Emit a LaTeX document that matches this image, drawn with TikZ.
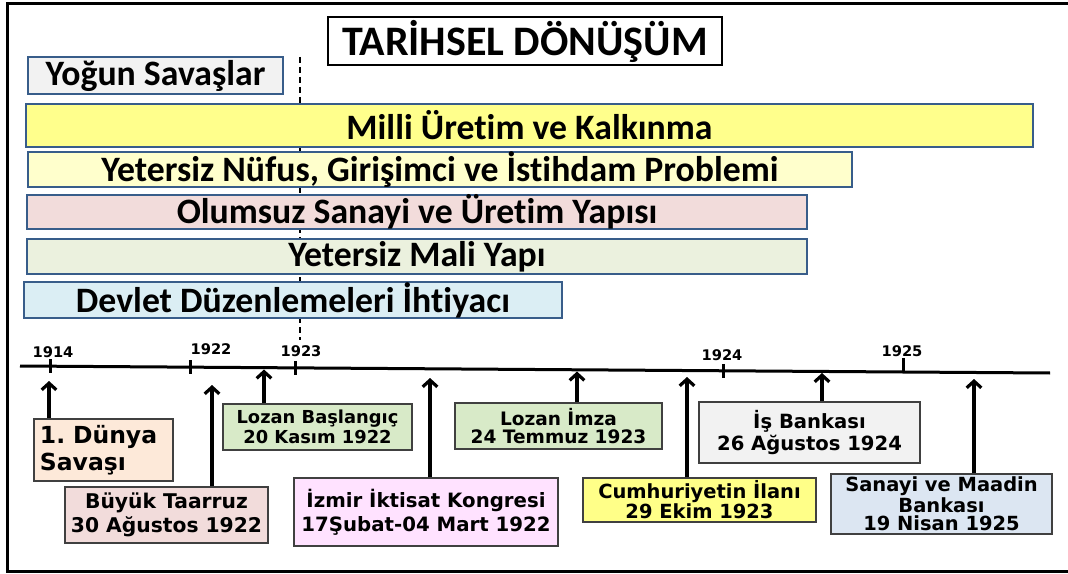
\documentclass[tikz,border=0pt]{standalone}
\usepackage{fontspec}
\newfontfamily\calfont[Ligatures=NoCommon]{Carlito}
\newfontfamily\verfont{DejaVu Sans}
\usetikzlibrary{arrows.meta}
\definecolor{barline}{RGB}{56,93,138}
\definecolor{boxline}{RGB}{64,64,64}
\definecolor{yogunc}{RGB}{242,242,242}
\definecolor{millic}{RGB}{255,255,140}
\definecolor{nufusc}{RGB}{255,255,204}
\definecolor{olumc}{RGB}{242,220,219}
\definecolor{malic}{RGB}{235,241,222}
\definecolor{devletc}{RGB}{219,238,244}
\definecolor{dunyac}{RGB}{253,233,217}
\definecolor{buyukc}{RGB}{242,220,219}
\definecolor{lozanc}{RGB}{216,234,200}
\definecolor{izmirc}{RGB}{255,226,255}
\definecolor{cumhc}{RGB}{255,255,136}
\definecolor{isc}{RGB}{242,242,242}
\definecolor{sanayic}{RGB}{220,230,242}
\tikzset{
  bar/.style={draw=barline, line width=1.5pt, inner sep=0pt,
    font=\calfont\bfseries\fontsize{26.8}{30}\selectfont},
  evbox/.style={draw=boxline, line width=0.9pt, inner sep=0pt, align=center},
  evfont/.style 2 args={font=\verfont\bfseries\fontsize{#1}{#2}\selectfont},
  arr/.style={line width=2.4pt, -{Straight Barb[length=5pt,width=11pt]}},
  yearlbl/.style={font=\verfont\bfseries\fontsize{11}{12}\selectfont, inner sep=0pt},
  yeartick/.style={line width=2.25pt},
  frameline/.style={line width=2.25pt},
  timeline/.style={line width=2.25pt},
  guideline/.style={line width=1.5pt, dash pattern=on 4.5pt off 3pt}
}
\begin{document}
\begin{tikzpicture}[x=0.75pt,y=-0.75pt]
\useasboundingbox (0,0) rectangle (1068,574);
\fill[white] (0,0) rectangle (1068,574);
% outer frame
\draw[frameline] (7,4) rectangle (1090,571);
% dashed guide
\coordinate (gA) at (300,57);
\coordinate (gB) at (300,340);
\draw[guideline] (gA) -- (gB);
% title
\node[draw=black, line width=1.1pt, fill=white, inner sep=0pt, minimum width=295.5pt, minimum height=36pt,
  font=\calfont\bfseries\fontsize{31.5}{34}\selectfont] (title) at (525,41) {TARİHSEL DÖNÜŞÜM};
% bars
\node[bar, fill=yogunc, minimum width=191.25pt, minimum height=27.75pt] (yogun) at (155.5,75.5) {Yoğun Savaşlar};
\node[bar, fill=millic, minimum width=755.25pt, minimum height=32.25pt] (milli) at (529.5,125.5) {Milli Üretim ve Kalkınma};
\node[bar, fill=nufusc, minimum width=618pt, minimum height=24.75pt] (nufus) at (440,169.5) {Yetersiz Nüfus, Girişimci ve İstihdam Problemi};
\node[bar, fill=olumc, minimum width=585pt, minimum height=25.5pt] (olum) at (417,212) {Olumsuz Sanayi ve Üretim Yapısı};
\node[bar, fill=malic, minimum width=585pt, minimum height=26.25pt] (mali) at (417,256.5) {Yetersiz Mali Yapı};
\node[bar, fill=devletc, minimum width=403.5pt, minimum height=27pt] (devlet) at (293,300) {Devlet Düzenlemeleri İhtiyacı};
% timeline
\coordinate (tlA) at (20,366);
\coordinate (tlB) at (1050,373);
\draw[timeline] (tlA) -- (tlB);
\draw[yeartick] (50,359.2) -- (50,373.2);
\draw[yeartick] (190,360.2) -- (190,374.2);
\draw[yeartick] (295,360.9) -- (295,374.9);
\draw[yeartick] (723,363.8) -- (723,377.8);
\draw[yeartick] (903,358) -- (903,372);
\node[yearlbl] (y1914) at (53,352) {1914};
\node[yearlbl] (y1922) at (211,349) {1922};
\node[yearlbl] (y1923) at (301,351) {1923};
\node[yearlbl] (y1924) at (722,355) {1924};
\node[yearlbl] (y1925) at (902,351) {1925};
% event boxes
\node[evbox, evfont={17.6}{20}, fill=dunyac, text width=95.25pt, align=left, inner xsep=4.5pt, minimum height=46.5pt] (dunya) at (103.5,450) {1.\ Dünya\\Savaşı};
\node[evbox, evfont={15.2}{18}, fill=buyukc, minimum width=152.25pt, minimum height=42pt] (buyuk) at (166.5,515) {Büyük Taarruz\\30 Ağustos 1922};
\node[evbox, evfont={13.4}{14.5}, fill=lozanc, minimum width=141.75pt, minimum height=34.5pt] (lozanb) at (317.5,427) {Lozan Başlangıç\\20 Kasım 1922};
\node[evbox, evfont={14.8}{18}, fill=izmirc, minimum width=198pt, minimum height=51pt] (izmir) at (426,512) {İzmir İktisat Kongresi\\17Şubat-04 Mart 1922};
\node[evbox, evfont={13.9}{14}, fill=lozanc, minimum width=155.25pt, minimum height=34.5pt] (lozani) at (558.5,426) {Lozan İmza\\24 Temmuz 1923};
\node[evbox, evfont={14.6}{15}, fill=cumhc, minimum width=174.75pt, minimum height=33pt] (cumh) at (699.5,500) {Cumhuriyetin İlanı\\29 Ekim 1923};
\node[evbox, evfont={14.7}{16.5}, fill=isc, minimum width=165.75pt, minimum height=45.75pt] (isb) at (809.5,432.5) {İş Bankası\\26 Ağustos 1924};
\node[evbox, evfont={14.6}{13.8}, fill=sanayic, minimum width=165.75pt, minimum height=45pt] (sanayi) at (941.5,504) {Sanayi ve Maadin\\Bankası\\19 Nisan 1925};
% arrow tips
\coordinate (t1) at (49,381);
\coordinate (t2) at (212,385);
\coordinate (t3) at (264,369.5);
\coordinate (t4) at (430,378);
\coordinate (t5) at (577,371.5);
\coordinate (t6) at (687,377);
\coordinate (t7) at (822,373);
\coordinate (t8) at (974,379);
\draw[arr] (dunya.north -| t1) -- (t1);
\draw[arr] (buyuk.north -| t2) -- (t2);
\draw[arr] (lozanb.north -| t3) -- (t3);
\draw[arr] (izmir.north -| t4) -- (t4);
\draw[arr] (lozani.north -| t5) -- (t5);
\draw[arr] (cumh.north -| t6) -- (t6);
\draw[arr] (isb.north -| t7) -- (t7);
\draw[arr] (sanayi.north -| t8) -- (t8);
\end{tikzpicture}
\end{document}
